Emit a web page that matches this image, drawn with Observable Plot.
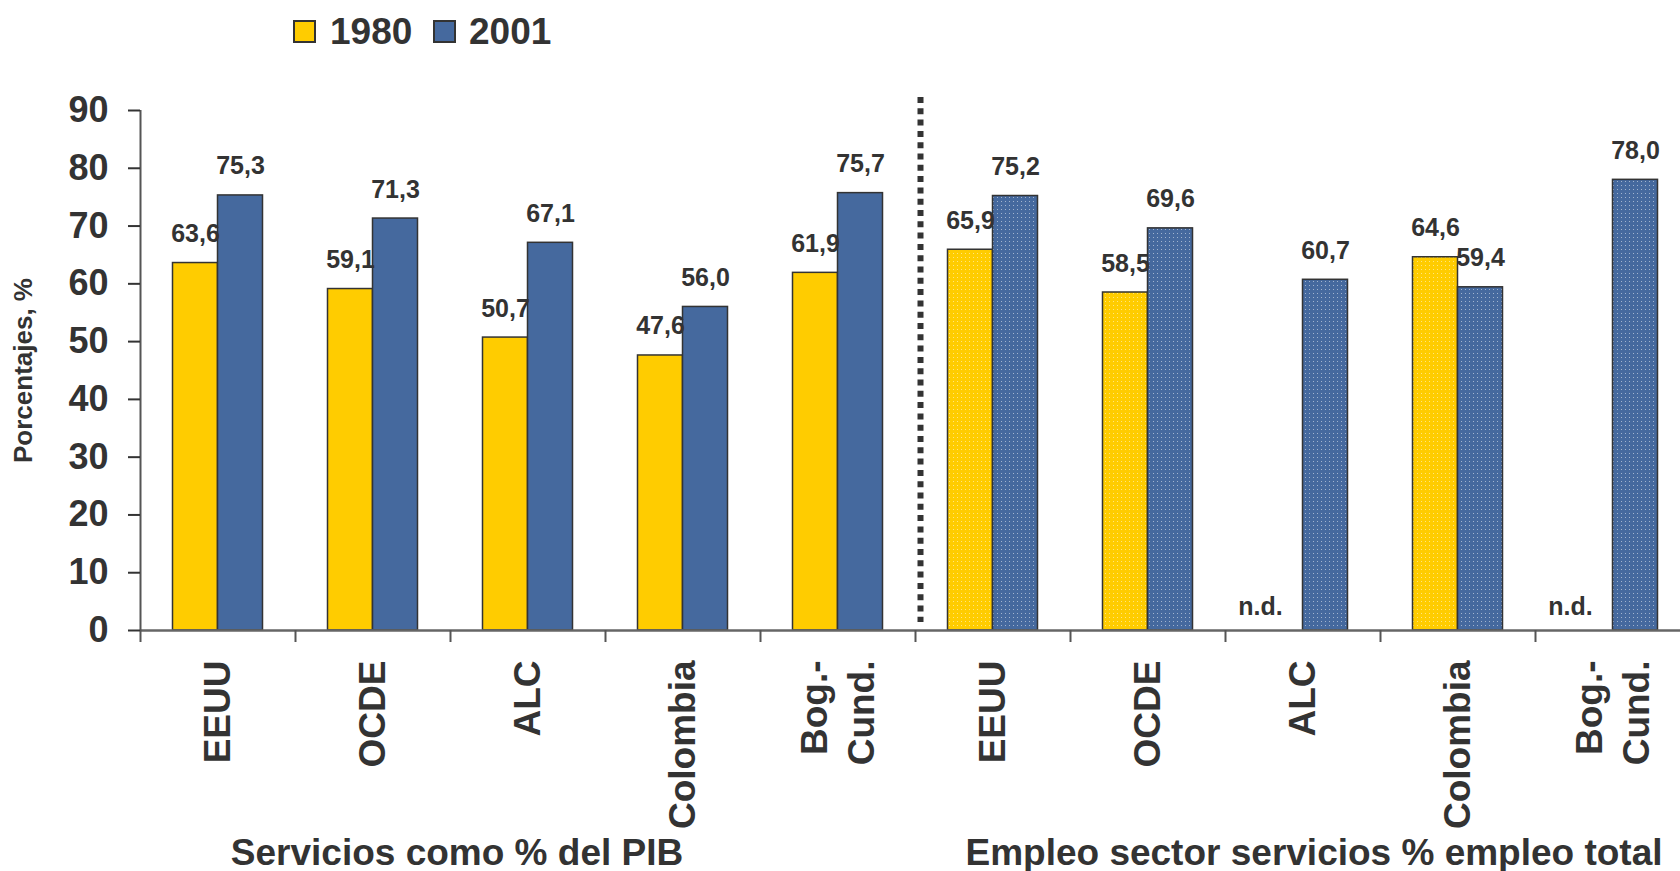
<!DOCTYPE html>
<html>
<head>
<meta charset="utf-8">
<script src="https://cdn.jsdelivr.net/npm/d3@7"></script>
<script src="https://cdn.jsdelivr.net/npm/@observablehq/plot@0.6"></script>
<style>
  body { margin: 0; background: #fff; font-family: "Liberation Sans", Arial, sans-serif; color: #333; }
  #legend { position: relative; width: 1680px; height: 64px; }
  .sw { position: absolute; top: 20px; width: 23px; height: 23px; box-sizing: border-box; border: 2px solid #333; }
  .lt { position: absolute; top: 0; height: 63px; line-height: 63px; font-size: 37px; font-weight: bold; color: #333; }
</style>
</head>
<body>
<div id="legend"></div>
<div id="chart"></div>
<script>
// ---- data ----
const sections = ["Servicios como % del PIB", "Empleo sector servicios % empleo total"];
const sectionIds = ["PIB", "Empleo"];
const countries = ["EEUU", "OCDE", "ALC", "Colombia", "Bog.-\nCund."];
const years = ["1980", "2001"];
const pib1980 = [63.6, 59.1, 50.7, 47.6, 61.9];
const pib2001 = [75.3, 71.3, 67.1, 56.0, 75.7];
const empleo1980 = [65.9, 58.5, null, 64.6, null];
const empleo2001 = [75.2, 69.6, 60.7, 59.4, 78.0];
const yTicks = [0, 10, 20, 30, 40, 50, 60, 70, 80, 90];
const missingLabel = "n.d.";
const yLabel = "Porcentajes, %";

// ---- styles ----
const colors = {"1980": "#FFCC00", "2001": "#45699E"};
const ink = "#333";
const font = "'Liberation Sans', Arial, sans-serif";

// ---- legend (HTML, above the SVG) ----
const legend = document.getElementById("legend");
const legendPos = [[293, 330], [433, 469]];
years.forEach((yr, i) => {
  const sw = document.createElement("div");
  sw.className = "sw"; sw.style.left = legendPos[i][0] + "px"; sw.style.background = colors[yr];
  const t = document.createElement("div");
  t.className = "lt"; t.style.left = legendPos[i][1] + "px"; t.textContent = yr;
  legend.append(sw, t);
});

// ---- table ----
const series = [[pib1980, pib2001], [empleo1980, empleo2001]];
const keys = sectionIds.flatMap(s => countries.map(c => s + "|" + c));
const rows = [];
sectionIds.forEach((s, si) => countries.forEach((c, ci) => years.forEach((yr, yi) => {
  rows.push({key: s + "|" + c, section: si, country: c, year: yr, value: series[si][yi][ci]});
})));
const present = rows.filter(d => d.value != null);
const missing = rows.filter(d => d.value == null);
const fmt = v => v.toFixed(1).replace(".", ",");
const fillOf = d => d.section === 0 ? colors[d.year] : `url(#dots${d.year})`;

// ---- layout ----
const W = 1680, H = 807, mL = 140, mT = 46, mB = 241;
const xRange = [140, 1690];
const bw = (xRange[1] - xRange[0]) / keys.length;
const pad = 32.5;
const barW = (bw - 2 * pad) / 2;
const lineC = "#555";

const chart = Plot.plot({
  width: W, height: H,
  marginLeft: mL, marginRight: 0, marginTop: mT, marginBottom: mB,
  style: {fontFamily: font, background: "#fff", color: ink, overflow: "visible"},
  x: {domain: keys, range: xRange, padding: 0, axis: null},
  y: {domain: [0, 90], axis: null},
  color: {type: "identity"},
  marks: [
    // bars
    Plot.barY(present.filter(d => d.year === "1980"), {
      x: "key", y: "value", fill: fillOf, stroke: ink, strokeWidth: 1.5,
      insetLeft: pad, insetRight: bw - pad - barW
    }),
    Plot.barY(present.filter(d => d.year === "2001"), {
      x: "key", y: "value", fill: fillOf, stroke: ink, strokeWidth: 1.5,
      insetLeft: pad + barW, insetRight: pad
    }),
    // x axis line
    Plot.ruleY([0], {stroke: "#666", strokeWidth: 2.5}),
    // y axis line
    Plot.ruleX([keys[0]], {x: d => d, dx: -bw / 2, stroke: lineC, strokeWidth: 2}),
    // category boundary ticks
    Plot.ruleX(keys, {x: d => d, dx: -bw / 2, y1: () => 0, y2: () => 0, insetBottom: -12, stroke: lineC, strokeWidth: 2}),
    // y axis ticks + labels
    Plot.axisY({ticks: yTicks, tickSize: 12, tickPadding: 20, fontSize: 36, fontWeight: "bold", color: ink, strokeWidth: 2, label: null}),
    // y axis title
    Plot.text([yLabel], {frameAnchor: "left", dx: -116.5, rotate: -90, fontSize: 26, fontWeight: "bold", fill: ink, textAnchor: "middle", lineAnchor: "middle"}),
    // dotted separator
    Plot.ruleX([keys[countries.length]], {x: d => d, dx: -bw / 2 + 5, insetTop: -13, insetBottom: 8, stroke: ink, strokeWidth: 6, strokeDasharray: "6 5.3"}),
    // value labels
    Plot.text(present.filter(d => d.year === "1980"), {
      x: "key", y: "value", text: d => fmt(d.value), dx: -barW / 2, dy: -29,
      fontSize: 25, fontWeight: "bold", fill: ink, lineAnchor: "middle"
    }),
    Plot.text(present.filter(d => d.year === "2001"), {
      x: "key", y: "value", text: d => fmt(d.value), dx: barW / 2, dy: -29,
      fontSize: 25, fontWeight: "bold", fill: ink, lineAnchor: "middle"
    }),
    // n.d. labels
    Plot.text(missing, {
      x: "key", y: () => 0, text: () => missingLabel, dx: -barW / 2 - 20, dy: -24,
      fontSize: 25, fontWeight: "bold", fill: ink, lineAnchor: "middle"
    }),
    // category labels (rotated)
    Plot.text(keys, {
      x: d => d, y: () => 0, text: d => d.split("|")[1], rotate: -90,
      textAnchor: "end", lineAnchor: "middle", lineHeight: 1.27, dx: -3, dy: 30,
      fontSize: 37, fontWeight: "bold", fill: ink
    }),
    // section labels
    Plot.text([sections[0]], {
      x: () => sectionIds[0] + "|" + countries[2], y: () => 0, text: d => d, dx: -71, dy: 223,
      fontSize: 37, fontWeight: "bold", fill: ink, lineAnchor: "middle"
    }),
    Plot.text([sections[1]], {
      x: () => sectionIds[1] + "|" + countries[2], y: () => 0, text: d => d, dx: 11, dy: 223,
      fontSize: 37, fontWeight: "bold", fill: ink, lineAnchor: "middle"
    })
  ]
});

// dotted fill patterns for the employment bars
const defs = d3.select(chart).insert("defs", ":first-child");
years.forEach(yr => {
  const p = defs.append("pattern").attr("id", "dots" + yr)
    .attr("patternUnits", "userSpaceOnUse").attr("width", 4).attr("height", 4);
  p.append("rect").attr("width", 4).attr("height", 4).attr("fill", colors[yr]);
  p.append("rect").attr("x", 1).attr("y", 1).attr("width", 1).attr("height", 1)
    .attr("fill", "#fff").attr("fill-opacity", 0.5);
});

document.getElementById("chart").append(chart);
</script>
</body>
</html>
